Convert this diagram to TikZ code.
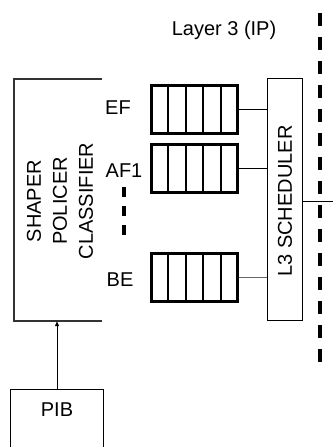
\documentclass[tikz,border=0pt]{standalone}
\usepackage{fontspec}
\setmainfont{Liberation Sans}
\usetikzlibrary{arrows.meta,calc}
\begin{document}
\begin{tikzpicture}[x=1pt,y=-1pt,
  lbl/.style={font=\fontsize{20}{26}\selectfont, inner sep=0pt},
  queue/.style={draw, line width=3pt, minimum width=86pt, minimum height=48pt, inner sep=0pt},
  wire/.style={line width=1pt},
  frame/.style={line width=1.6pt, draw=black!80},
  thinbox/.style={line width=1pt}
]
\useasboundingbox (0,0) rectangle (333,447);

% title
\node[lbl] (title) at (224,30) {Layer 3 (IP)};

% classifier box (open on the right)
\node[minimum width=88pt, minimum height=242pt, inner sep=0pt] (cls) at (58,200) {};
\draw[frame] (cls.north east) -- (cls.north west) -- (cls.south west) -- (cls.south east);
\node[lbl, rotate=90, align=center] (clstext) at (60,201) {SHAPER\\POLICER\\CLASSIFIER};

% queues
\node[queue] (ef) at (194.5,109) {};
\node[queue] (af) at (194.5,168) {};
\node[queue] (be) at (194.5,277) {};
\foreach \q in {ef,af,be}{
  \foreach \k in {1,2,3,4}{
    \draw[line width=2pt] ($(\q.north west)!\k/5!(\q.north east)$) -- ($(\q.south west)!\k/5!(\q.south east)$);
  }
}

% queue labels
\node[lbl] (eflbl) at (118,108) {EF};
\node[lbl] (aflbl) at (124,171) {AF1};
\node[lbl] (belbl) at (120,280) {BE};
\coordinate (vdt) at (124,187);
\coordinate (vdb) at (124,235);
\draw[line width=4pt, dash pattern=on 10pt off 9pt] (vdt) -- (vdb);

% scheduler
\node[draw, thinbox, minimum width=35pt, minimum height=242pt, inner sep=0pt] (sch) at (284.5,199) {};
\node[lbl, rotate=90] (schtext) at (285,201) {L3 SCHEDULER};

\draw[wire] (ef.east) -- (ef.east -| sch.west);
\draw[wire] (af.east) -- (af.east -| sch.west);
\draw[wire, draw=black!60] (be.east) -- (be.east -| sch.west);

% output
\coordinate (out) at (333,201);
\draw[wire] (sch.east |- out) -- (out);

% layer boundary
\coordinate (dtop) at (320,13);
\coordinate (dbot) at (320,370);
\draw[line width=4pt, dash pattern=on 13pt off 11pt] (dtop) -- (dbot);

% PIB
\node[minimum width=92pt, minimum height=80pt, inner sep=0pt] (pibbox) at (57,430) {};
\draw[thinbox] (pibbox.south west) -- (pibbox.north west) -- (pibbox.north east) -- (pibbox.south east);
\node[lbl] (pib) at (57,410) {PIB};

\draw[wire, -{Triangle[length=5pt,width=4pt]}] (pibbox.north) -- (pibbox.north |- cls.south);
\end{tikzpicture}
\end{document}
